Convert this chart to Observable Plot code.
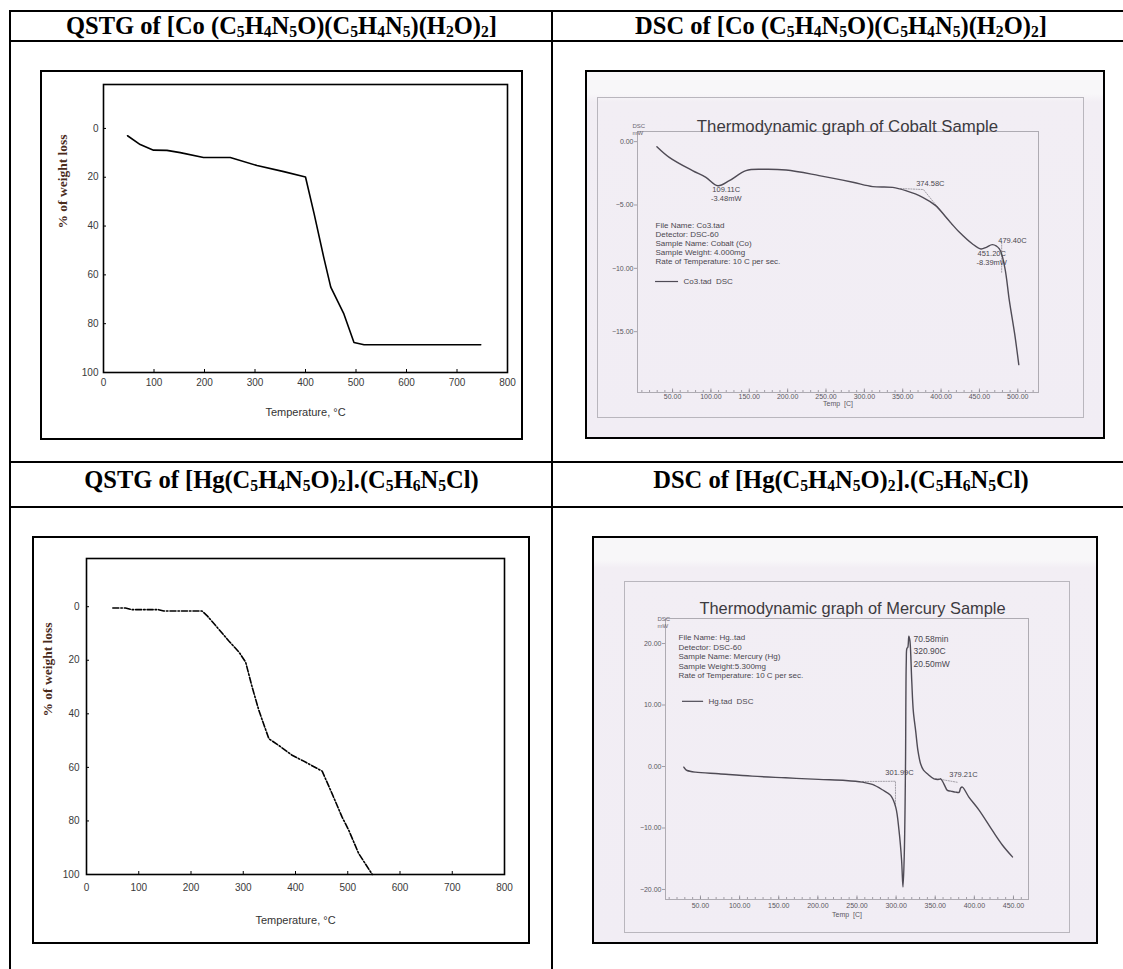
<!DOCTYPE html>
<html><head><meta charset="utf-8">
<script src="https://cdn.jsdelivr.net/npm/d3@7"></script>
<script src="https://cdn.jsdelivr.net/npm/@observablehq/plot@0.6"></script>
<style>
body{margin:0;background:#fff;width:1123px;height:969px;position:relative;overflow:hidden;font-family:"Liberation Sans",Arial,sans-serif}
.hl{position:absolute;background:#000}
.hdr{position:absolute;font-family:"Liberation Serif","Times New Roman",serif;font-weight:bold;font-size:24.5px;text-align:center;white-space:nowrap;color:#000}
.hdr sub{font-size:0.64em;vertical-align:-0.2em;line-height:0}
.box{position:absolute;border:2px solid #000;box-sizing:border-box}
.paper{background:linear-gradient(180deg,#f8f7f9 0px,#f8f7f9 22px,#f2eef4 30px,#f1edf4 100%)}
.pframe{position:absolute;border:1px solid #b9b6bd;box-sizing:border-box}
</style></head><body>
<div class="hl" style="left:9px;top:10px;width:1114px;height:2px"></div>
<div class="hl" style="left:9px;top:40px;width:1114px;height:2px"></div>
<div class="hl" style="left:9px;top:461px;width:1114px;height:2px"></div>
<div class="hl" style="left:9px;top:506px;width:1114px;height:2px"></div>
<div class="hl" style="left:9px;top:10px;width:2px;height:959px"></div>
<div class="hl" style="left:551px;top:10px;width:2px;height:959px"></div>

<div class="hdr" style="left:11px;width:541px;top:12px;height:28px;line-height:28px">QSTG of [Co (C<sub>5</sub>H<sub>4</sub>N<sub>5</sub>O)(C<sub>5</sub>H<sub>4</sub>N<sub>5</sub>)(H<sub>2</sub>O)<sub>2</sub>]</div>
<div class="hdr" style="left:553px;width:576px;top:12px;height:28px;line-height:28px">DSC of [Co (C<sub>5</sub>H<sub>4</sub>N<sub>5</sub>O)(C<sub>5</sub>H<sub>4</sub>N<sub>5</sub>)(H<sub>2</sub>O)<sub>2</sub>]</div>
<div class="hdr" style="left:11px;width:541px;top:463px;height:34px;line-height:34px">QSTG of [Hg(C<sub>5</sub>H<sub>4</sub>N<sub>5</sub>O)<sub>2</sub>].(C<sub>5</sub>H<sub>6</sub>N<sub>5</sub>Cl)</div>
<div class="hdr" style="left:553px;width:576px;top:463px;height:34px;line-height:34px">DSC of [Hg(C<sub>5</sub>H<sub>4</sub>N<sub>5</sub>O)<sub>2</sub>].(C<sub>5</sub>H<sub>6</sub>N<sub>5</sub>Cl)</div>

<div class="box" style="left:40px;top:70px;width:483px;height:370px"></div>
<div class="box" style="left:32px;top:536px;width:498px;height:408px"></div>
<div class="box paper" style="left:585px;top:70px;width:520px;height:369px"></div>
<div class="pframe" style="left:597px;top:97px;width:487px;height:321px"></div>
<div class="box paper" style="left:592px;top:536px;width:506px;height:408px"></div>
<div class="pframe" style="left:624px;top:581px;width:446px;height:352px"></div>

<script>
// ---------- data ----------
const tgaXTicks = [0, 100, 200, 300, 400, 500, 600, 700, 800];
const tgaYTicks = [0, 20, 40, 60, 80, 100];

const coTgaTemp = [47.6, 72.7, 99, 125.6, 152, 198, 251, 304, 357, 400, 417, 436, 450, 476, 496, 516, 747];
const coTgaLoss = [3.0, 6.6, 8.9, 9.0, 9.9, 11.9, 11.9, 15.2, 17.7, 19.9, 34.9, 52.7, 65, 76, 87.7, 88.6, 88.6];

const hgTgaTemp = [50.4, 74.6, 87, 138, 148, 221, 231, 250, 272, 292, 304.6, 317, 330, 349, 368, 393.6, 413, 451, 470, 489, 502, 521, 547];
const hgTgaLoss = [0.5, 0.5, 1.1, 1.1, 1.6, 1.6, 3.4, 7.7, 12.7, 17, 20.7, 30, 38.8, 49.3, 51.8, 55.5, 57.4, 61.4, 69.8, 78.5, 83.5, 92.2, 100];

const coDscXTicks = [50, 100, 150, 200, 250, 300, 350, 400, 450, 500];
const coDscYTicks = [0, -5, -10, -15];
const coDscTemp = [29.6, 45.7, 76, 93.5, 109, 124, 145.7, 167, 198, 241, 285, 311, 337, 354, 376, 393, 406.5, 424, 441, 452, 459, 467, 476, 483, 489, 496, 501.3];
const coDscHeat = [-0.40, -1.24, -2.29, -2.82, -3.48, -3.08, -2.29, -2.18, -2.24, -2.68, -3.21, -3.55, -3.61, -3.87, -4.39, -5.05, -5.97, -7.16, -8.08, -8.47, -8.34, -8.13, -8.47, -9.92, -12.55, -15.2, -17.6];
const coDscInfo = ["File Name: Co3.tad", "Detector: DSC-60", "Sample Name: Cobalt (Co)", "Sample Weight: 4.000mg", "Rate of Temperature: 10 C per sec."];
const coDscNotes = [
  {x: 120, y: -4.1, text: "109.11C\n-3.48mW"},
  {x: 386, y: -3.23, text: "374.58C"},
  {x: 493, y: -7.8, text: "479.40C"},
  {x: 466, y: -9.14, text: "451.20C\n-8.39mW"}
];
const coDscGuideA = [{x: 347, y: -3.7}, {x: 377, y: -3.78}, {x: 415, y: -6.62}];
const coDscGuideB = [{x: 479, y: -7.96}, {x: 479, y: -10.4}];

const hgDscXTicks = [50, 100, 150, 200, 250, 300, 350, 400, 450];
const hgDscYTicks = [20, 10, 0, -10, -20];
const hgDscTemp = [28.7, 30.5, 33, 43.6, 73.5, 116, 158.7, 201, 235.5, 256.8, 269.6, 282.4, 293, 299.5, 303.7, 307, 308.8, 310.5, 312, 313, 313.8, 315, 316.3, 317.6, 320, 322, 325, 328, 331.4, 335, 340, 348.5, 355, 357, 361, 365.6, 370, 376, 380.5, 382.5, 384.7, 393, 406, 423, 436, 448.7];
const hgDscHeat = [-0.1, -0.4, -0.65, -0.92, -1.19, -1.57, -1.84, -2.1, -2.27, -2.54, -2.92, -3.78, -4.7, -6.6, -10.4, -15.2, -19.6, -14, 0, 17, 19.2, 19.4, 21.2, 20.5, 13.9, 9, 5.8, 2.5, 0.4, -0.6, -1.19, -2.0, -2.1, -2.0, -2.81, -3.89, -4.0, -4.16, -4.2, -3.5, -3.35, -4.97, -7.1, -10.4, -12.8, -14.7];
const hgDscInfo = ["File Name: Hg..tad", "Detector: DSC-60", "Sample Name: Mercury (Hg)", "Sample Weight:5.300mg", "Rate of Temperature: 10 C per sec."];
const hgDscPeak = ["70.58min", "320.90C", "20.50mW"];
const hgDscNotes = [
  {x: 304.3, y: -0.97, text: "301.99C"},
  {x: 386, y: -1.3, text: "379.21C"}
];
const hgDscGuideA = [{x: 257, y: -2.44}, {x: 299.2, y: -2.4}, {x: 299.2, y: -6.67}];
const hgDscGuideB = [{x: 350.3, y: -1.95}, {x: 379.7, y: -2.6}];

// ---------- drawing ----------
const baseStyle = {background: "transparent", fontFamily: "'Liberation Sans', Arial, sans-serif", overflow: "visible"};
function place(svg, left, top) {
  svg.style.position = "absolute";
  svg.style.left = left + "px";
  svg.style.top = top + "px";
  svg.style.maxWidth = "none";
  document.body.appendChild(svg);
}

function tgaPlot({temp, loss, dash, W, H, m, yLabDx, tempDy, xPad, yPad}) {
  const yDom = [-18, 100];
  const uy = (yDom[1] - yDom[0]) / (H - m.t - m.b);
  const ux = 800 / (W - m.l - m.r);
  return Plot.plot({
    width: W, height: H, marginLeft: m.l, marginTop: m.t, marginRight: m.r, marginBottom: m.b,
    x: {domain: [0, 800], axis: null},
    y: {domain: yDom, reverse: true, axis: null},
    style: baseStyle,
    marks: [
      Plot.frame({stroke: "#000", strokeWidth: 1.6}),
      Plot.ruleX(tgaXTicks, {x: d => d, y1: 100, y2: 100 - 3 * uy, stroke: "#000"}),
      Plot.ruleY(tgaYTicks, {y: d => d, x1: 0, x2: 3 * ux, stroke: "#000"}),
      Plot.axisX({ticks: tgaXTicks, anchor: "bottom", tickSize: 0, tickPadding: xPad, fontSize: 10, fill: "#3a3a3a", label: null}),
      Plot.axisY({ticks: tgaYTicks, anchor: "left", tickSize: 0, tickPadding: yPad, fontSize: 10, fill: "#3a3a3a", label: null}),
      Plot.line(temp, {x: d => d, y: (d, i) => loss[i], stroke: "#000", strokeWidth: 1.6, strokeDasharray: dash}),
      Plot.text(["% of weight loss"], {text: d => d, frameAnchor: "left", dx: yLabDx, rotate: -90, fontFamily: "'Liberation Serif', serif", fontWeight: "bold", fontSize: 13.5, fill: "#4a2b1c"}),
      Plot.text(["Temperature, \u00B0C"], {text: d => d, frameAnchor: "bottom", dy: tempDy, fontSize: 11, fill: "#333"})
    ]
  });
}

function dscPlot(o) {
  const {temp, heat, W, H, m, xDom, yDom, xTicks, yTicks} = o;
  const uy = (yDom[1] - yDom[0]) / (H - m.t - m.b);
  const ux = (xDom[1] - xDom[0]) / (W - m.l - m.r);
  const minor = d3.range(10, xDom[1], 10);
  const ink = "#4f4b55", txt = "#4a474f";
  return Plot.plot({
    width: W, height: H, marginLeft: m.l, marginTop: m.t, marginRight: m.r, marginBottom: m.b,
    x: {domain: xDom, axis: null},
    y: {domain: yDom, axis: null},
    style: baseStyle,
    marks: [
      Plot.frame({stroke: "#aeabb2", strokeWidth: 1}),
      Plot.ruleX(minor, {x: d => d, y1: yDom[0], y2: yDom[0] + 2 * uy, stroke: "#8d8992", strokeWidth: 0.8}),
      Plot.ruleX(xTicks, {x: d => d, y1: yDom[0], y2: yDom[0] + 3.5 * uy, stroke: "#8d8992", strokeWidth: 0.8}),
      Plot.ruleY(yTicks, {y: d => d, x1: xDom[0], x2: xDom[0] - 3 * ux, stroke: "#8d8992", strokeWidth: 0.8}),
      Plot.axisX({ticks: xTicks, anchor: "bottom", tickSize: 0, tickPadding: o.xPad, fontSize: 7, fill: "#5a5760", label: null, tickFormat: d3.format(".2f")}),
      Plot.axisY({ticks: yTicks, anchor: "left", tickSize: 0, tickPadding: 4, fontSize: 7, fill: "#5a5760", label: null, tickFormat: d3.format(".2f")}),
      Plot.text(["Temp  [C]"], {text: d => d, frameAnchor: "bottom", dy: o.tempDy, fontSize: 7, fill: "#5a5760"}),
      Plot.text([o.title], {text: d => d, frameAnchor: "top", dx: o.titleDx, dy: o.titleDy, fontSize: o.titleSize, fill: "#3c3a40"}),
      Plot.text(["DSC\nmW"], {text: d => d, frameAnchor: "top-left", dx: o.unitDx, dy: o.unitDy, fontSize: 6, lineHeight: 1.25, fill: "#6a6770"}),
      Plot.line(o.guideA, {x: "x", y: "y", stroke: "#8f8b94", strokeWidth: 0.8, strokeDasharray: "1.2,1.4"}),
      Plot.line(o.guideB, {x: "x", y: "y", stroke: "#8f8b94", strokeWidth: 0.8, strokeDasharray: "1.2,1.4"}),
      Plot.line(temp, {x: d => d, y: (d, i) => heat[i], stroke: ink, strokeWidth: 1.4, curve: "catmull-rom"}),
      Plot.text([o.info.join("\n")], {text: d => d, x: o.infoX, y: o.infoY, textAnchor: "start", lineAnchor: "top", fontSize: 8, lineHeight: o.infoLH, fill: txt}),
      Plot.ruleY([o.legY], {y: d => d, x1: o.legX1, x2: o.legX2, stroke: ink, strokeWidth: 1.2}),
      Plot.text([o.legText], {text: d => d, x: o.legTX, y: o.legY, textAnchor: "start", fontSize: 8, fill: txt}),
      Plot.text(o.notes, {x: "x", y: "y", text: "text", fontSize: 7.5, lineHeight: 1.25, fill: txt}),
      ...(o.extra || [])
    ]
  });
}

place(tgaPlot({temp: coTgaTemp, loss: coTgaLoss, dash: null, W: 483, H: 370,
  m: {l: 63, t: 14, r: 16, b: 68}, yLabDx: -41, tempDy: 43, xPad: 6, yPad: 5}), 40, 70);

place(tgaPlot({temp: hgTgaTemp, loss: hgTgaLoss, dash: "6,2,1.5,2", W: 498, H: 408,
  m: {l: 54, t: 22, r: 26, b: 70}, yLabDx: -39, tempDy: 49, xPad: 9, yPad: 7}), 32, 536);

place(dscPlot({temp: coDscTemp, heat: coDscHeat, W: 520, H: 369,
  m: {l: 52, t: 61, r: 67, b: 47}, xDom: [4.3, 527], yDom: [-19.8, 0.8],
  xTicks: coDscXTicks, yTicks: coDscYTicks, xPad: 1.5, tempDy: 13,
  title: "Thermodynamic graph of Cobalt Sample", titleSize: 16.8, titleDx: 9.5, titleDy: -11,
  unitDx: -5, unitDy: -9, info: coDscInfo, infoX: 27.8, infoY: -6.3, infoLH: 1.12,
  legY: -11.04, legX1: 27.8, legX2: 57.8, legTX: 64.3, legText: "Co3.tad  DSC",
  notes: coDscNotes, guideA: coDscGuideA, guideB: coDscGuideB}), 585, 70);

place(dscPlot({temp: hgDscTemp, heat: hgDscHeat, W: 506, H: 408,
  m: {l: 73, t: 82, r: 70, b: 45}, xDom: [5.3, 469.2], yDom: [-21.63, 24.07],
  xTicks: hgDscXTicks, yTicks: hgDscYTicks, xPad: 4, tempDy: 17,
  title: "Thermodynamic graph of Mercury Sample", titleSize: 16.4, titleDx: 5.5, titleDy: -16,
  unitDx: -8, unitDy: -3, info: hgDscInfo, infoX: 21.9, infoY: 21.63, infoLH: 1.18,
  legY: 10.6, legX1: 27, legX2: 54, legTX: 60.3, legText: "Hg.tad  DSC",
  notes: hgDscNotes, guideA: hgDscGuideA, guideB: hgDscGuideB,
  extra: [Plot.text([hgDscPeak.join("\n")], {text: d => d, x: 322.2, y: 21.7, textAnchor: "start", lineAnchor: "top", fontSize: 8.5, lineHeight: 1.47, fill: "#4a474f"})]
}), 592, 536);
</script>
</body></html>
